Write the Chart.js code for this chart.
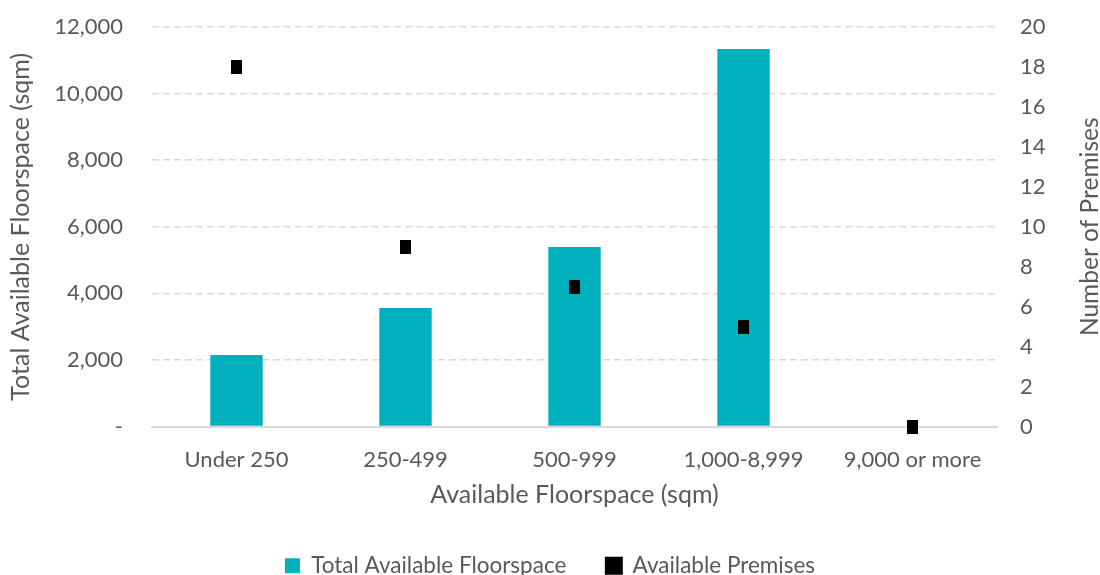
<!DOCTYPE html>
<html>
<head>
<meta charset="utf-8">
<script src="https://cdn.jsdelivr.net/npm/chart.js@4/dist/chart.umd.min.js"></script>
<style>
  html, body { margin: 0; padding: 0; background: #fff; }
  #wrap { width: 1100px; height: 575px; }
</style>
</head>
<body>
<div id="wrap"><canvas id="chart" width="1100" height="575"></canvas></div>
<script>
const categories = ["Under 250", "250-499", "500-999", "1,000-8,999", "9,000 or more"];
const floorspace = [2150, 3560, 5390, 11340, 0];
const premises = [18, 9, 7, 5, 0];

const FONT = "Lato, 'Open Sans', sans-serif";
const TEXT = "#595959";
const GRID = "#d9d9d9";
const NONE = "rgba(0,0,0,0)";

// small black marker, a bit taller than wide
const marker = document.createElement("canvas");
marker.width = 11;
marker.height = 14;
(() => {
    const c = marker.getContext("2d");
    c.fillStyle = "#000";
    c.fillRect(0, 0, 11, 14);
})();

// right-hand title reads bottom-to-top, so it is drawn here
const rightTitle = {
    id: "rightTitle",
    afterDraw(chart) {
        const { ctx, chartArea } = chart;
        ctx.save();
        ctx.translate(1090, (chartArea.top + chartArea.bottom) / 2);
        ctx.rotate(-Math.PI / 2);
        ctx.font = `24.5px ${FONT}`;
        ctx.fillStyle = TEXT;
        ctx.textAlign = "center";
        ctx.textBaseline = "middle";
        ctx.fillText("Number of Premises", 0, 0);
        ctx.restore();
    }
};

new Chart(document.getElementById("chart"), {
    data: {
        labels: categories,
        datasets: [
            {
                type: "bar",
                label: "Total Available Floorspace",
                data: floorspace,
                backgroundColor: "#00b0bd",
                yAxisID: "y",
                barPercentage: 0.62,
                categoryPercentage: 0.5,
                order: 2
            },
            {
                type: "line",
                label: "Available Premises",
                data: premises,
                showLine: false,
                clip: false,
                backgroundColor: "#000",
                borderColor: "#000",
                pointStyle: marker,
                yAxisID: "y1",
                order: 1
            }
        ]
    },
    options: {
        responsive: false,
        animation: false,
        layout: { padding: { top: 27, bottom: -12 } },
        plugins: {
            tooltip: { enabled: false },
            legend: {
                position: "bottom",
                labels: {
                    font: { family: FONT, size: 22.5 },
                    color: TEXT,
                    boxWidth: 15,
                    boxHeight: 15,
                    padding: 40,
                    sort: (a, b) => a.datasetIndex - b.datasetIndex
                }
            }
        },
        scales: {
            x: {
                grid: { display: false, drawTicks: false },
                border: { display: true, color: GRID, width: 2 },
                ticks: { font: { family: FONT, size: 22 }, color: TEXT, padding: 20 },
                title: {
                    display: true,
                    text: "Available Floorspace (sqm)",
                    font: { family: FONT, size: 25 },
                    color: TEXT,
                    padding: { top: 0, bottom: 5 }
                },
                afterFit: (s) => { s.height = 88; }
            },
            y: {
                position: "left",
                min: 0,
                max: 12000,
                ticks: {
                    stepSize: 2000,
                    font: { family: FONT, size: 22 },
                    color: TEXT,
                    padding: 4,
                    callback: (v) => v === 0 ? "-" : v.toLocaleString("en-US")
                },
                grid: {
                    drawTicks: true,
                    tickLength: 25,
                    tickColor: NONE,
                    color: (c) => c.tick.value === 0 ? NONE : GRID,
                    lineWidth: 1.5
                },
                border: { display: false, dash: [7, 4] },
                title: {
                    display: true,
                    text: "Total Available Floorspace (sqm)",
                    font: { family: FONT, size: 25 },
                    color: TEXT,
                    padding: { top: 6, bottom: 0 }
                },
                afterFit: (s) => { s.width = 152; }
            },
            y1: {
                position: "right",
                min: 0,
                max: 20,
                ticks: {
                    stepSize: 2,
                    font: { family: FONT, size: 22 },
                    color: TEXT,
                    padding: 4
                },
                grid: {
                    display: true,
                    drawOnChartArea: false,
                    drawTicks: true,
                    tickLength: 19,
                    tickColor: NONE
                },
                border: { display: false },
                afterFit: (s) => { s.width = 103; }
            }
        }
    },
    plugins: [rightTitle]
});
</script>
</body>
</html>
